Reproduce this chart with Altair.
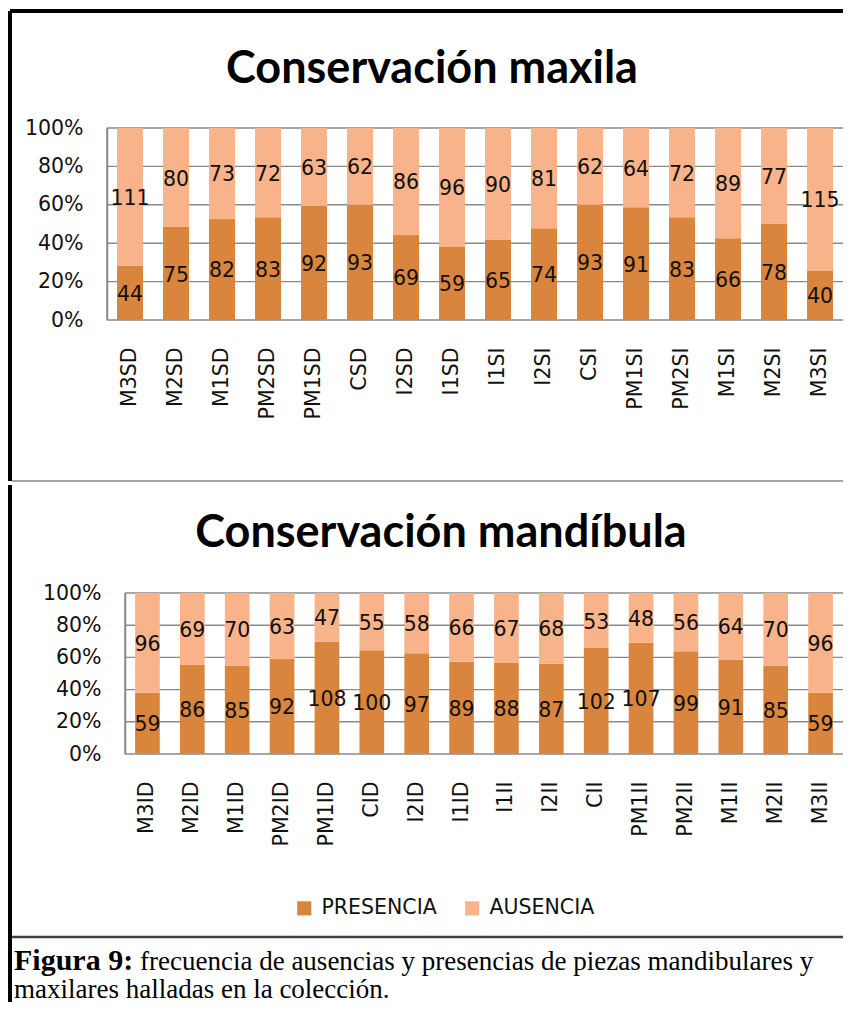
import altair as alt
import pandas as pd

# ---------------- data ----------------
series = ["PRESENCIA", "AUSENCIA"]
series_colors = ["#DA853E", "#F8B38A"]

maxila_teeth = ["M3SD", "M2SD", "M1SD", "PM2SD", "PM1SD", "CSD", "I2SD", "I1SD",
                "I1SI", "I2SI", "CSI", "PM1SI", "PM2SI", "M1SI", "M2SI", "M3SI"]
maxila_presencia = [44, 75, 82, 83, 92, 93, 69, 59, 65, 74, 93, 91, 83, 66, 78, 40]
maxila_ausencia = [111, 80, 73, 72, 63, 62, 86, 96, 90, 81, 62, 64, 72, 89, 77, 115]

mandibula_teeth = ["M3ID", "M2ID", "M1ID", "PM2ID", "PM1ID", "CID", "I2ID", "I1ID",
                   "I1II", "I2II", "CII", "PM1II", "PM2II", "M1II", "M2II", "M3II"]
mandibula_presencia = [59, 86, 85, 92, 108, 100, 97, 89, 88, 87, 102, 107, 99, 91, 85, 59]
mandibula_ausencia = [96, 69, 70, 63, 47, 55, 58, 66, 67, 68, 53, 48, 56, 64, 70, 96]

y_ticks = [0, 0.2, 0.4, 0.6, 0.8, 1.0]

title_maxila = "Conservación maxila"
title_mandibula = "Conservación mandíbula"
caption_bold = "Figura 9:"
caption_line1 = "frecuencia de ausencias y presencias de piezas mandibulares y"
caption_line2 = "maxilares halladas en la colección."

FONT = "DejaVu Sans"
FS = 20.5
GRID = "#8a8a8a"
W = 737  # common plot-area width (both panels start at page x = 107)


def long_df(teeth, pres, aus):
    rows = []
    for t, p, a in zip(teeth, pres, aus):
        rows.append({"pieza": t, "serie": series[0], "orden": 0, "n": p})
        rows.append({"pieza": t, "serie": series[1], "orden": 1, "n": a})
    return pd.DataFrame(rows)


one = pd.DataFrame({"k": [0]})


def hrule(x1, x2, y, color, w):
    return alt.Chart(one).mark_rule(color=color, strokeWidth=w).encode(
        x=alt.value(x1), x2=alt.value(x2), y=alt.value(y))


def vrule(x, y1, y2, color, w):
    return alt.Chart(one).mark_rule(color=color, strokeWidth=w).encode(
        x=alt.value(x), y=alt.value(y1), y2=alt.value(y2))


def text_at(txt, x, y, size, font, weight="normal", align="left", baseline="alphabetic"):
    return alt.Chart(pd.DataFrame({"t": [txt]})).mark_text(
        font=font, fontSize=size, fontWeight=weight, align=align,
        baseline=baseline, color="#000000").encode(
        x=alt.value(x), y=alt.value(y), text="t:N")


def panel(teeth, pres, aus, pad_inner, legend, left):
    """left = pixel where the plot frame starts inside the common width W."""
    df = long_df(teeth, pres, aus)
    base = alt.Chart(df).transform_stack(
        stack="n", groupby=["pieza"], as_=["y0", "y1"], offset="normalize",
        sort=[alt.SortField("orden", order="ascending")]
    ).transform_calculate(ym="(datum.y0 + datum.y1) / 2")

    xscale = alt.Scale(paddingInner=pad_inner, paddingOuter=pad_inner / 2,
                       range=[left, W - 1])
    yscale = alt.Scale(domain=[0, 1])
    xaxis = alt.Axis(labelAngle=-90, labelPadding=27, ticks=False, domain=False,
                     labelFont=FONT, labelFontSize=FS, labelColor="#111111")
    yaxis = alt.Axis(values=y_ticks, format=".0%", labelPadding=24, ticks=False,
                     grid=False, offset=-left, domainColor=GRID, domainWidth=1.5,
                     labelFont=FONT, labelFontSize=FS, labelColor="#111111")
    grid = alt.Chart(pd.DataFrame({"v": y_ticks})).mark_rule(
        color=GRID, strokeWidth=1.4).encode(
        y=alt.Y("v:Q", scale=yscale, title=None, axis=yaxis),
        x=alt.value(left), x2=alt.value(W - 1))
    bars = base.mark_bar().encode(
        x=alt.X("pieza:N", sort=teeth, scale=xscale, title=None, axis=xaxis),
        y=alt.Y("y0:Q", scale=yscale, title=None, axis=yaxis),
        y2="y1:Q",
        color=alt.Color("serie:N", scale=alt.Scale(domain=series, range=series_colors),
                        legend=legend),
    )
    labels = base.mark_text(font=FONT, fontSize=FS, color="#111111",
                            baseline="middle", dy=2).encode(
        x=alt.X("pieza:N", sort=teeth, scale=xscale, title=None, axis=xaxis),
        y=alt.Y("ym:Q", scale=yscale, title=None, axis=yaxis),
        text="n:Q",
    )
    return grid, bars, labels


# ---------- top panel (maxila); plot origin at page (107,128) ----------
tg, tb, tl = panel(maxila_teeth, maxila_presencia, maxila_ausencia, 0.435, None, 0)
top = alt.layer(
    tg, tb, tl,
    vrule(0, 0, 192, GRID, 1.5),
    text_at(title_maxila, 325, -59, 45, "Lato", "bold", "center", "middle"),
    hrule(-97, 736, -117, "#000000", 4),
    vrule(-97, -117, 353, "#000000", 4),
    hrule(-95, 736, 353, "#a6a6a6", 2),
).properties(width=W, height=192)

# ---------- bottom panel (mandibula); plot origin at page (107,593) ----------
leg = alt.Legend(orient="none", legendX=187, legendY=305, direction="horizontal",
                 title=None, symbolType="square", symbolSize=200, symbolStrokeWidth=0,
                 labelFont=FONT, labelFontSize=FS, labelColor="#111111",
                 labelOffset=7, columnPadding=25)
bg, bb, bl = panel(mandibula_teeth, mandibula_presencia, mandibula_ausencia, 0.45, leg, 18)
bottom = alt.layer(
    bg, bb, bl,
    vrule(18, 0, 161, GRID, 1.5),
    text_at(title_mandibula, 334, -60, 45, "Lato", "bold", "center", "middle"),
    vrule(-97, -108, 409, "#000000", 4),
    hrule(-95, 736, 344, "#404040", 2.5),
    text_at(caption_bold, -93, 377, 30, "Liberation Serif", "bold"),
    text_at(caption_line1, 33, 377, 27, "Liberation Serif"),
    text_at(caption_line2, -93, 405, 27, "Liberation Serif"),
).properties(width=W, height=161)

chart = alt.concat(top, bottom, columns=1, spacing=0).resolve_scale(
    color="independent", x="independent", y="independent"
).properties(
    padding={"top": 1, "left": 0, "right": 0, "bottom": 0},
    background="white",
).configure_view(stroke=None)

chart.save("out.html", embed_options={"renderer": "svg", "actions": False})
